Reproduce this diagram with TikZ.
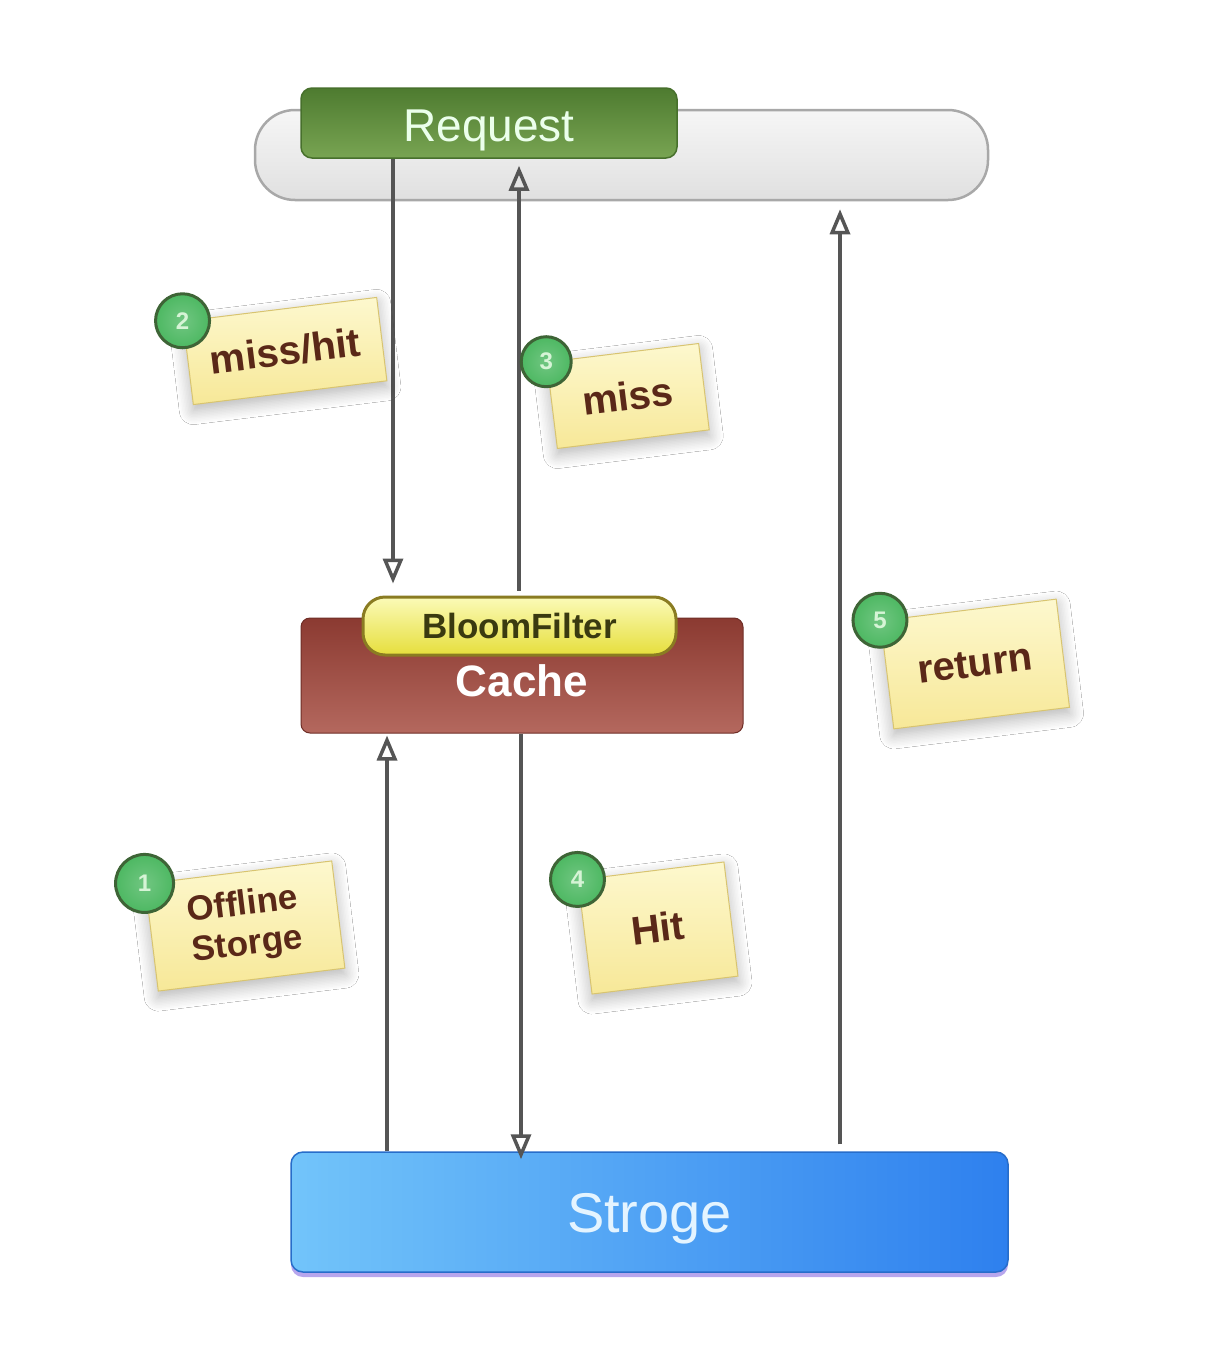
\documentclass[tikz,border=0pt]{standalone}
\usepackage{fontspec}
\setmainfont{Liberation Sans}
\usetikzlibrary{arrows.meta,shadows,shadows.blur,calc}
\definecolor{linegrey}{HTML}{555555}
\definecolor{bartop}{HTML}{F6F6F6}
\definecolor{barbot}{HTML}{E0E0E0}
\definecolor{barline}{HTML}{A8A8A8}
\definecolor{reqtop}{HTML}{4E7B30}
\definecolor{reqbot}{HTML}{78A452}
\definecolor{reqline}{HTML}{47702C}
\definecolor{cachetop}{HTML}{8B3A31}
\definecolor{cachebot}{HTML}{B4685E}
\definecolor{bftop}{HTML}{FBFBB8}
\definecolor{bfbot}{HTML}{E6DE3C}
\definecolor{bfline}{HTML}{8A7C22}
\definecolor{bftext}{HTML}{3A3A10}
\definecolor{stleft}{HTML}{72C4FA}
\definecolor{stright}{HTML}{2E80EE}
\definecolor{notetop}{HTML}{FDF8CE}
\definecolor{notebot}{HTML}{F7E898}
\definecolor{noteline}{HTML}{D8C470}
\definecolor{notetext}{HTML}{5A2818}
\definecolor{badgefill}{HTML}{4DB862}
\definecolor{badgeline}{HTML}{3E6436}
\definecolor{badgetext}{HTML}{D6F4D6}
\definecolor{sttext}{HTML}{E4F4FF}
\tikzset{
  arr/.style={draw=linegrey, line width=4pt,
    -{Triangle[open, length=25pt, width=20pt, line width=3.5pt]}},
  note/.style={rectangle, rotate=7, top color=notetop, bottom color=notebot,
    draw=noteline, line width=1pt, inner sep=0pt, text=notetext,
    font=\fontsize{40}{42}\selectfont\bfseries, align=center,
    blur shadow={shadow xshift=0pt, shadow yshift=-6pt, shadow blur radius=14pt,
      shadow blur steps=10, shadow opacity=30}},
  badge/.style={circle, minimum size=54pt, inner sep=0pt, draw=badgeline, line width=3pt,
    inner color=badgefill!80!white, outer color=badgefill, text=badgetext,
    font=\fontsize{24}{24}\selectfont\bfseries}
}
\begin{document}
\begin{tikzpicture}[x=1pt,y=-1pt]
\useasboundingbox (0,0) rectangle (1224,1354);
\fill[white] (0,0) rectangle (1224,1354);
% top bar and request
\node[rectangle, rounded corners=40pt, minimum width=733pt, minimum height=90pt,
  top color=bartop, bottom color=barbot, draw=barline, line width=2.5pt, inner sep=0pt]
  (bar) at (621.5,155) {};
\node[rectangle, rounded corners=11pt, minimum width=376pt, minimum height=70pt,
  top color=reqtop, bottom color=reqbot, draw=reqline, line width=1.5pt, inner sep=0pt,
  text=white!92!green, font=\fontsize{46}{48}\selectfont]
  (req) at (489,123) {\raisebox{-18pt}[0pt][0pt]{Request}};
% cache
\node[rectangle, rounded corners=9pt, minimum width=442pt, minimum height=115pt,
  top color=cachetop, bottom color=cachebot, draw=cachetop!80!black, line width=1pt, inner sep=0pt,
  text=white, font=\fontsize{44}{46}\selectfont\bfseries]
  (cache) at (522,675.5) {\raisebox{-21pt}[0pt][0pt]{Cache}};
\node[rectangle, rounded corners=22pt, minimum width=313pt, minimum height=58pt,
  top color=bftop, bottom color=bfbot, draw=bfline, line width=3pt, inner sep=0pt,
  text=bftext, font=\fontsize{35}{37}\selectfont\bfseries]
  (bf) at (519.5,626) {BloomFilter};
% storage
\node[rectangle, rounded corners=12pt, minimum width=717pt, minimum height=120pt,
  left color=stleft, right color=stright, draw=stright!85!black, line width=1.5pt, inner sep=0pt,
  text=sttext, font=\fontsize{56}{58}\selectfont,
  drop shadow={shadow xshift=0pt, shadow yshift=-5pt, opacity=0.35, fill=blue!60!violet}]
  (st) at (649.5,1212) {\raisebox{-20pt}[0pt][0pt]{Stroge}};
% connector x positions
\coordinate (xa) at (393,0);
\coordinate (xb) at (519,0);
\coordinate (xc) at (840,0);
\coordinate (xd) at (387,0);
\coordinate (xe) at (521,0);
% connectors
\draw[arr] (req.south -| xa) -- ([yshift=12pt]bf.north -| xa);
\draw[arr, shorten >=7pt] ([yshift=5pt]bf.north -| xb) -- (req.south -| xb);
\draw[arr, shorten >=8pt] ([yshift=7pt]st.north -| xc) -- (bar.south -| xc);
\draw[arr, shorten >=2pt] (st.north -| xd) -- (cache.south -| xd);
\draw[arr, shorten >=-8pt] (cache.south -| xe) -- (st.north -| xe);
% notes
\node[note, minimum width=195pt, minimum height=84pt] (n2) at (285,351) {miss/hit};
\node[badge] (b2) at (n2.north west) {2};
\node[note, minimum width=153pt, minimum height=87pt] (n3) at (628,396) {\raisebox{-4pt}{miss}};
\node[badge, minimum size=50pt] (b3) at (n3.north west) {3};
\node[note, minimum width=177pt, minimum height=109pt] (n5) at (975,664) {\raisebox{-4pt}{return}};
\node[badge] (b5) at (n5.north west) {5};
\node[note, minimum width=188pt, minimum height=108pt, font=\fontsize{35}{40}\selectfont\bfseries] (n1) at (245,926) {Offline\\Storge};
\node[badge, minimum size=58pt] (b1) at (n1.north west) {1};
\node[note, minimum width=147pt, minimum height=115pt] (n4) at (658,928) {Hit};
\node[badge] (b4) at (n4.north west) {4};
\end{tikzpicture}
\end{document}
